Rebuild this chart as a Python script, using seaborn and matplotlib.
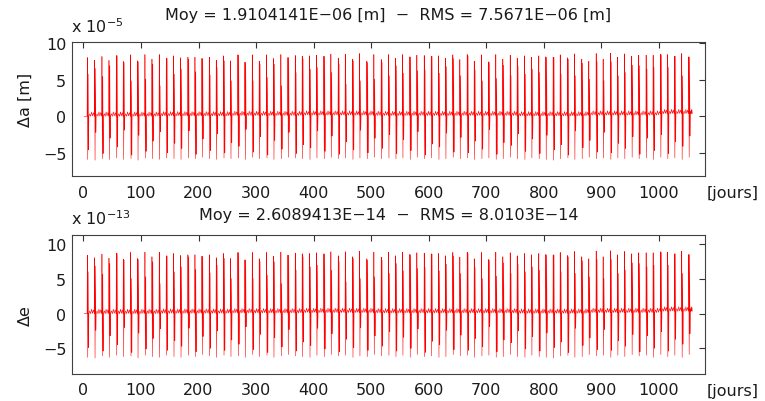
import matplotlib
matplotlib.use("Agg")
import matplotlib.pyplot as plt
import seaborn as sns

# spike dates (days)
spike_day = [7.6, 20.3, 33.0, 45.2, 58.0, 70.1, 82.8, 95.0, 107.7, 119.9,
             132.6, 144.8, 157.5, 169.7, 182.4, 194.6, 206.7, 219.5, 231.6, 244.4,
             256.5, 269.2, 281.4, 294.2, 306.3, 319.1, 331.2, 343.9, 356.1, 368.9,
             381.0, 393.8, 405.9, 418.6, 430.8, 443.6, 455.8, 468.5, 480.6, 493.3,
             505.5, 518.3, 531.0,
             543.2, 555.3, 568.0, 580.2, 593.0, 605.2, 617.9, 630.0, 642.7, 654.9,
             667.7, 679.9, 692.6, 704.7, 717.4, 729.6, 742.4, 754.6, 767.3, 779.4,
             792.1, 804.3, 817.1, 829.3, 842.0, 854.1, 866.8, 879.0, 891.8, 903.9,
             916.6, 928.8, 940.9, 953.6, 965.8, 978.6, 990.8, 1003.5, 1015.6, 1027.8,
             1040.5, 1052.7]
last_day = 1058.0

# delta a, in units of 1e-5 m
a_peak = [8.04, 7.68, 8.18, 7.64, 8.32, 7.50, 8.41, 7.59, 8.45, 7.82,
          8.45, 7.95, 8.27, 8.00, 8.09, 8.09, 7.91, 8.09, 7.68, 8.27,
          7.59, 8.41, 7.41, 8.41, 7.54, 8.41, 7.91, 8.45, 8.04, 8.32,
          8.23, 8.27, 8.36, 8.23, 8.50, 7.95, 8.50, 7.82, 8.59, 7.54,
          8.45, 7.77, 8.45,
          7.95, 8.45, 8.14, 8.36, 8.32, 8.23, 8.27, 7.95, 8.41, 7.77,
          8.45, 7.54, 8.41, 7.45, 8.45, 7.82, 8.36, 7.95, 8.27, 8.09,
          8.27, 8.14, 8.09, 8.41, 8.00, 8.54, 7.82, 7.54, 8.59, 7.82,
          8.64, 8.09, 8.54, 8.23, 8.36, 8.36, 8.36, 8.50, 8.45, 8.23,
          8.59, 8.14]
a_inner = [5.77, 6.55, 5.45, 6.91, 8.27, 7.36, 4.86, 7.45, 5.09, 7.14,
           4.18, 7.91, 5.77, 6.45, 7.82, 6.09, 7.91, 5.64, 6.68, 7.59,
           4.86, 8.36, 7.36, 4.86, 7.14, 5.32, 7.14, 4.18, 8.04, 6.00,
           7.82, 6.45, 6.68, 8.18, 6.00, 7.14, 4.41, 7.59, 4.86, 7.36,
           5.09, 7.36, 5.55,
           6.91, 5.91, 8.10, 6.23, 6.36, 8.18, 5.91, 6.82, 7.91, 5.55,
           8.27, 6.36, 4.86, 7.36, 5.18, 7.00, 5.55, 6.82, 5.77, 6.45,
           6.00, 8.04, 8.04, 5.77, 7.82, 5.55, 7.27, 5.09, 7.45, 4.86,
           7.45, 5.55, 6.00, 7.00, 6.91, 6.45, 6.68, 8.40, 6.68, 8.20,
           5.55, 8.10]
a_trough = [-5.9, -6.0, -5.8, -5.9, -5.7, -5.9, -5.8, -6.0, -5.7, -5.8,
            -5.9, -5.7, -5.8, -5.9, -5.7, -5.8, -5.6, -5.8, -5.9, -5.7,
            -5.8, -5.7, -5.9, -5.6, -5.8, -5.7, -5.9, -5.8, -5.6, -5.7,
            -5.8, -5.9, -5.7, -5.8, -5.6, -5.8, -5.7, -5.9, -5.7, -5.8,
            -5.6, -5.8, -5.7,
            -5.8, -5.7, -5.9, -5.6, -5.8, -5.7, -5.9, -5.8, -5.6, -5.8,
            -5.7, -5.9, -5.8, -5.7, -5.9, -5.8, -5.6, -5.8, -5.9, -5.7,
            -5.8, -5.9, -6.0, -5.8, -5.7, -5.9, -5.8, -5.6, -5.8, -5.7,
            -5.9, -5.7, -5.8, -5.6, -5.8, -5.7, -5.9, -5.6, -5.8, -5.7,
            -5.9, -5.6]
a_dip = [-4.6, -2.2, -5.1, -3.0, -4.2, -1.9, -5.3, -2.6, -4.8, -3.4,
         -2.1, -5.0, -3.7, -4.4, -2.0, -5.2, -3.1, -4.7, -2.4, -5.0,
         -3.6, -4.1, -1.8, -4.9, -2.8, -5.3, -3.3, -4.5, -2.2, -5.1,
         -3.9, -4.3, -2.0, -4.8, -2.7, -5.2, -3.5, -4.6, -1.9, -5.0,
         -3.0, -4.4, -2.5,
         -5.1, -3.2, -4.7, -2.1, -5.3, -3.8, -4.2, -2.3, -4.9, -2.9,
         -5.0, -3.4, -4.5, -1.8, -5.2, -3.6, -4.0, -2.4, -4.8, -3.1,
         -5.1, -2.6, -4.6, -3.9, -5.3, -2.0, -4.3, -3.3, -4.9, -2.2,
         -5.0, -3.7, -4.4, -2.8, -5.2, -3.0, -4.7, -2.5, -5.1, -3.5,
         -4.1, -2.7]
a_ripple = [0.35, 0.0, 0.6, 0.05, 0.5]
a_level = [0.0, 0.05, 0.1, 0.15, 0.1, 0.1, 0.05, 0.15, 0.35]   # one per 10 spikes

# delta e, in units of 1e-13
e_peak = [8.46, 8.07, 8.60, 8.02, 8.75, 7.88, 8.85, 7.98, 8.89, 8.22,
          8.89, 8.36, 8.70, 8.41, 8.51, 8.51, 8.31, 8.51, 8.07, 8.70,
          7.98, 8.85, 7.78, 8.85, 7.93, 8.85, 8.31, 8.89, 8.46, 8.75,
          8.65, 8.70, 8.80, 8.65, 8.94, 8.36, 8.94, 8.22, 9.04, 7.93,
          8.89, 8.17, 8.89,
          8.36, 8.89, 8.56, 8.80, 8.75, 8.65, 8.70, 8.36, 8.85, 8.17,
          8.89, 7.93, 8.85, 7.83, 8.89, 8.22, 8.80, 8.36, 8.70, 8.51,
          8.70, 8.56, 8.51, 8.85, 8.41, 8.99, 8.22, 7.93, 9.04, 8.22,
          9.09, 8.51, 8.99, 8.65, 8.80, 8.80, 8.80, 8.94, 8.89, 8.65,
          9.04, 8.56]
e_inner = [6.04, 6.87, 5.70, 7.25, 8.70, 7.73, 5.08, 7.83, 5.32, 7.50,
           4.35, 8.32, 6.04, 6.76, 8.22, 6.38, 8.28, 5.90, 7.01, 7.98,
           5.08, 8.79, 7.73, 5.08, 7.50, 5.56, 7.50, 4.35, 8.45, 6.29,
           8.22, 6.76, 7.01, 8.60, 6.29, 7.50, 4.60, 7.98, 5.08, 7.73,
           5.32, 7.73, 5.81,
           7.25, 6.19, 8.52, 6.53, 6.67, 8.60, 6.19, 7.16, 8.32, 5.81,
           8.70, 6.67, 5.08, 7.73, 5.42, 7.35, 5.81, 7.16, 6.04, 6.76,
           6.29, 8.45, 8.45, 6.04, 8.22, 5.81, 7.64, 5.32, 7.83, 5.08,
           7.83, 5.81, 6.29, 7.35, 7.25, 6.76, 7.01, 8.85, 7.01, 8.62,
           5.81, 8.52]
e_trough = [-6.3, -6.4, -6.1, -6.3, -6.0, -6.2, -6.1, -6.4, -6.0, -6.2,
            -6.3, -6.0, -6.2, -6.3, -6.0, -6.2, -5.9, -6.1, -6.3, -6.0,
            -6.2, -6.1, -6.3, -5.9, -6.2, -6.0, -6.3, -6.1, -5.9, -6.1,
            -6.2, -6.3, -6.0, -6.2, -5.9, -6.1, -6.0, -6.3, -6.1, -6.2,
            -5.9, -6.1, -6.0,
            -6.2, -6.0, -6.3, -5.9, -6.2, -6.1, -6.3, -6.2, -5.9, -6.1,
            -6.0, -6.3, -6.1, -6.0, -6.3, -6.2, -5.9, -6.2, -6.3, -6.0,
            -6.2, -6.3, -6.4, -6.1, -6.0, -6.3, -6.2, -5.9, -6.1, -6.0,
            -6.3, -6.0, -6.2, -5.9, -6.1, -6.0, -6.3, -5.9, -6.2, -6.0,
            -6.3, -5.9]
e_dip = [-4.9, -2.4, -5.4, -3.2, -4.5, -2.0, -5.6, -2.8, -5.1, -3.6,
         -2.2, -5.3, -3.9, -4.7, -2.1, -5.5, -3.3, -5.0, -2.5, -5.3,
         -3.8, -4.4, -1.9, -5.2, -3.0, -5.6, -3.5, -4.8, -2.3, -5.4,
         -4.1, -4.6, -2.1, -5.1, -2.9, -5.5, -3.7, -4.9, -2.0, -5.3,
         -3.2, -4.7, -2.6,
         -5.4, -3.4, -5.0, -2.2, -5.6, -4.0, -4.5, -2.4, -5.2, -3.1,
         -5.3, -3.6, -4.8, -1.9, -5.5, -3.8, -4.2, -2.5, -5.1, -3.3,
         -5.4, -2.8, -4.9, -4.1, -5.6, -2.1, -4.6, -3.5, -5.2, -2.3,
         -5.3, -3.9, -4.7, -3.0, -5.5, -3.2, -5.0, -2.6, -5.4, -3.7,
         -4.4, -2.9]
e_ripple = [0.4, 0.0, 0.65, 0.05, 0.55]
e_level = [0.0, 0.05, 0.1, 0.15, 0.1, 0.1, 0.05, 0.15, 0.35]

n = len(spike_day)
for arr in (a_peak, a_inner, a_trough, a_dip, e_peak, e_inner, e_trough, e_dip):
    assert len(arr) == n, len(arr)


def build_series(peak, inner, trough, dip, ripple, level):
    xs, ys = [1.0], [level[0]]
    for i, d in enumerate(spike_day):
        lv = level[i // 10]
        xs += [d - 1.2, d - 0.8, d - 0.1, d + 0.6, d + 1.3, d + 1.8]
        ys += [lv, peak[i], trough[i], inner[i], dip[i], lv]
        end = spike_day[i + 1] - 1.2 if i + 1 < n else last_day
        step = (end - (d + 1.8)) / (len(ripple) + 1)
        for k, r in enumerate(ripple):
            xs.append(d + 1.8 + step * (k + 1))
            ys.append(lv + r)
    xs.append(last_day)
    ys.append(level[-1])
    return xs, ys


sns.set_style("white")
plt.rcParams['font.family'] = ['DejaVu Sans']
plt.rcParams['mathtext.fontset'] = 'dejavusans'

fig = plt.figure(figsize=(7.65, 4.02), dpi=100)
ax1 = fig.add_axes([0.094, 0.559, 0.8275, 0.333])
ax2 = fig.add_axes([0.094, 0.0672, 0.8275, 0.3465])

panels = [
    (ax1, build_series(a_peak, a_inner, a_trough, a_dip, a_ripple, a_level),
     (-8.2, 10.1), '\u0394a [m]', 0.577, r'x 10$^{-5}$', 1.15,
     'Moy = 1.9104141E\u221206 [m]  \u2212  RMS = 7.5671E\u221206 [m]'),
    (ax2, build_series(e_peak, e_inner, e_trough, e_dip, e_ripple, e_level),
     (-8.7, 11.4), '\u0394e', 0.43, r'x 10$^{-13}$', 1.09,
     'Moy = 2.6089413E\u221214  \u2212  RMS = 8.0103E\u221214'),
]

for ax, (xs, ys), ylim, ylab, ylab_y, expo, title_y, title in panels:
    sns.lineplot(x=xs, y=ys, ax=ax, color='#ff0000', linewidth=0.4,
                 estimator=None, sort=False)
    ax.set_xlim(-20, 1080)
    ax.set_ylim(*ylim)
    ax.set_xticks(range(0, 1001, 100))
    ax.set_yticks([-5, 0, 5, 10])
    ax.tick_params(direction='in', length=4, width=0.8, colors='0.2',
                   labelsize=11.5, top=True, right=True, labelcolor='0.1')
    ax.tick_params(axis='x', pad=6)
    ax.tick_params(axis='y', pad=4)
    for sp in ax.spines.values():
        sp.set_color('0.25')
        sp.set_linewidth(0.8)
    ax.set_ylabel(ylab, fontsize=11.5, color='0.1')
    ax.yaxis.set_label_coords(-0.062, ylab_y)
    ax.text(-0.001, 1.055, expo, transform=ax.transAxes, fontsize=11.5,
            color='0.1', ha='left', va='bottom')
    ax.text(0.5, title_y, title, transform=ax.transAxes, fontsize=11.5,
            color='0.1', ha='center', va='bottom')
    ax.text(1.003, -0.12, '[jours]', transform=ax.transAxes, fontsize=11.5,
            color='0.1', ha='left', va='center')

fig.savefig('out.png', dpi=100)
